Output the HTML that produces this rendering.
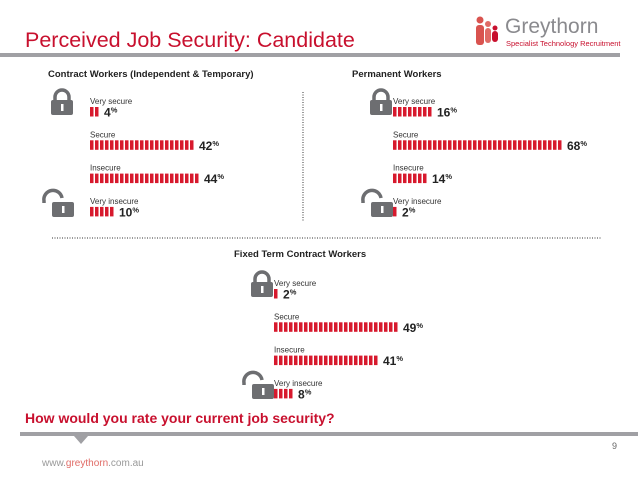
<!DOCTYPE html>
<html><head><meta charset="utf-8"><style>
body{margin:0;background:#fff;}
svg{display:block;font-family:"Liberation Sans",sans-serif;}
</style></head><body>
<svg id="s" width="638" height="479" viewBox="0 0 638 479">
<text x="25" y="47" font-size="21.5" fill="#c8102e">Perceived Job Security: Candidate</text>
<rect x="0" y="53" width="620" height="4" fill="#a0a0a4"/>
<g>
<circle cx="480" cy="20" r="3.5" fill="#d9534f"/><rect x="476" y="25" width="8" height="20" rx="3" fill="#d9534f"/>
<circle cx="488" cy="24" r="3" fill="#e06b66"/><rect x="485" y="28" width="6" height="15" rx="3" fill="#e06b66"/>
<circle cx="495" cy="28" r="2.5" fill="#c8102e"/><rect x="492" y="31" width="6" height="11" rx="3" fill="#c8102e"/>
<text x="505" y="33" font-size="21" fill="#8a8a8e">Greythorn</text>
<text x="506" y="46" font-size="7.5" fill="#c8102e">Specialist Technology Recruitment</text>
</g>
<line x1="303" y1="92" x2="303" y2="222" stroke="#333" stroke-dasharray="1,1.5"/>
<line x1="52" y1="238" x2="602" y2="238" stroke="#333" stroke-dasharray="1,1.5"/>
<text x="25" y="423" font-size="14" font-weight="bold" fill="#c8102e">How would you rate your current job security?</text>
<rect x="20" y="432" width="618" height="4" fill="#a0a0a4"/>
<polygon points="74,436 88,436 81,444" fill="#a0a0a4"/>
<text x="612" y="449" font-size="9" fill="#666">9</text>
<text x="42" y="466" font-size="10" fill="#999">www.<tspan fill="#e06b66">greythorn</tspan>.com.au</text>
<g id="charts"></g>
</svg>
<script>
const categories = ["Very secure","Secure","Insecure","Very insecure"];
const contractValues = [4,42,44,10];
const permanentValues = [16,68,14,2];
const fixedTermValues = [2,49,41,8];
const panelTitles = ["Contract Workers (Independent & Temporary)","Permanent Workers","Fixed Term Contract Workers"];

const NS="http://www.w3.org/2000/svg";
const root=document.getElementById('charts');
function mk(tag,attrs,parent){const e=document.createElementNS(NS,tag);for(const k in attrs)e.setAttribute(k,attrs[k]);(parent||root).appendChild(e);return e;}
const pxPerPct=2.5;
function xScale(x0,v){return x0+v*pxPerPct;}
function lock(g,x,y,open){
  mk('path',{d:open?`M${x-4} ${y+10} v-2 a9 9 0 0 1 18 -3`:`M${x+4} ${y+10} v-4 a7 7 0 0 1 14 0 v4`,fill:'none',stroke:'#6d6e71','stroke-width':3.5},g);
  mk('rect',{x:x+(open?4:0),y:y+9,width:22,height:15,rx:2,fill:'#6d6e71'},g);
  mk('rect',{x:x+(open?14:10),y:y+13,width:2.5,height:7,fill:'#fff'},g);
}
function panel(idx,values,tx,ty,x0,y0,lockX){
  const g=mk('g',{});
  
  
  const t=mk('text',{x:tx,y:ty,'font-size':9.5,'font-weight':'bold',fill:'#222'},g);
  t.textContent=panelTitles[idx];
  
  
  lock(g,lockX,y0-13,false);
  lock(g,lockX-3,y0+89,true);
  values.forEach((v,i)=>{
    const y=y0+i*33.3;
    const lab=mk('text',{x:x0,y:y,'font-size':8,fill:'#333'},g);
    lab.textContent=categories[i];
    
    
    const n=Math.max(1,Math.round(v/2));
    const bg=mk('g',{},g);
    
    
    for(let k=0;k<n;k++){
      const sx=xScale(x0,k*2);
      mk('rect',{x:sx,y:y+3,width:3.5,height:9.5,fill:'#d7192d'},bg);
    }
    const end=xScale(x0,n*2);
    const vt=mk('text',{x:end+4,y:y+12.5,'font-size':12,'font-weight':'bold',fill:'#222'},g);
    vt.innerHTML=v+'<tspan font-size="7.5" dy="-4">%</tspan>';
    
    
  });
}
panel(0,contractValues,48,77,90,104,51);
panel(1,permanentValues,352,77,393,104,370);
panel(2,fixedTermValues,234,257,274,286,251);
</script>
</body></html>
